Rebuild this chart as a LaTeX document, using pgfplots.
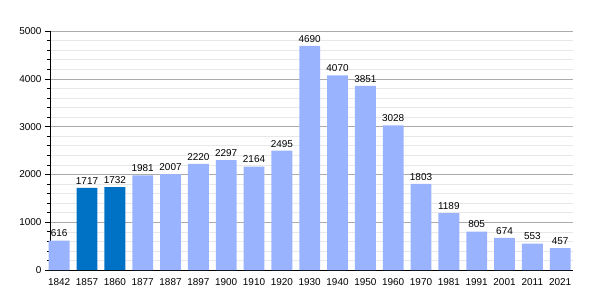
\documentclass[border=0pt]{standalone}
\usepackage{pgfplots}
\pgfplotsset{compat=1.18}
\usepackage{fontspec}
\setmainfont{Liberation Sans}
\definecolor{lightbar}{RGB}{153,179,255}
\definecolor{darkbar}{RGB}{0,114,198}
\begin{document}
\begin{tikzpicture}
\begin{axis}[
  scale only axis,
  width=523bp, height=239bp,
  xmin=-0.33, xmax=18.46,
  ymin=0, ymax=5000,
  xtick={0,...,18},
  xticklabels={1842,1857,1860,1877,1887,1897,1900,1910,1920,1930,1940,1950,1960,1970,1981,1991,2001,2011,2021},
  major x tick style={draw=none},
  ytick={0,1000,2000,3000,4000,5000},
  minor y tick num=4,
  ymajorgrids, yminorgrids,
  major grid style={draw=black!33, line width=0.6pt},
  minor grid style={draw=black!9, line width=0.5pt},
  axis x line*=bottom,
  axis y line*=left,
  axis line style={black, line width=0.8pt, -},
  y tick style={black, line width=0.6pt},
  tick align=outside,
  major tick length=5bp,
  minor tick length=3bp,
  tick label style={font=\fontsize{10}{12}\selectfont},
  /pgf/number format/assume math mode=true,
  scaled y ticks=false,
  yticklabel style={/pgf/number format/1000 sep={}},
  bar width=0.75,
  nodes near coords,
  nodes near coords style={font=\fontsize{10}{12}\selectfont, black, /pgf/number format/1000 sep={}},
  clip=false,
  name=ax,
]
\addplot[ybar, fill=lightbar, draw=none] coordinates {
(0,616) (3,1981) (4,2007) (5,2220) (6,2297) (7,2164) (8,2495) (9,4690) (10,4070) (11,3851) (12,3028) (13,1803) (14,1189) (15,805) (16,674) (17,553) (18,457)};
\addplot[ybar, fill=darkbar, draw=none] coordinates {(1,1717) (2,1732)};
\end{axis}
\path (ax.south west) ++(-50bp,-30bp) rectangle ++(600bp,300bp);
\end{tikzpicture}
\end{document}
